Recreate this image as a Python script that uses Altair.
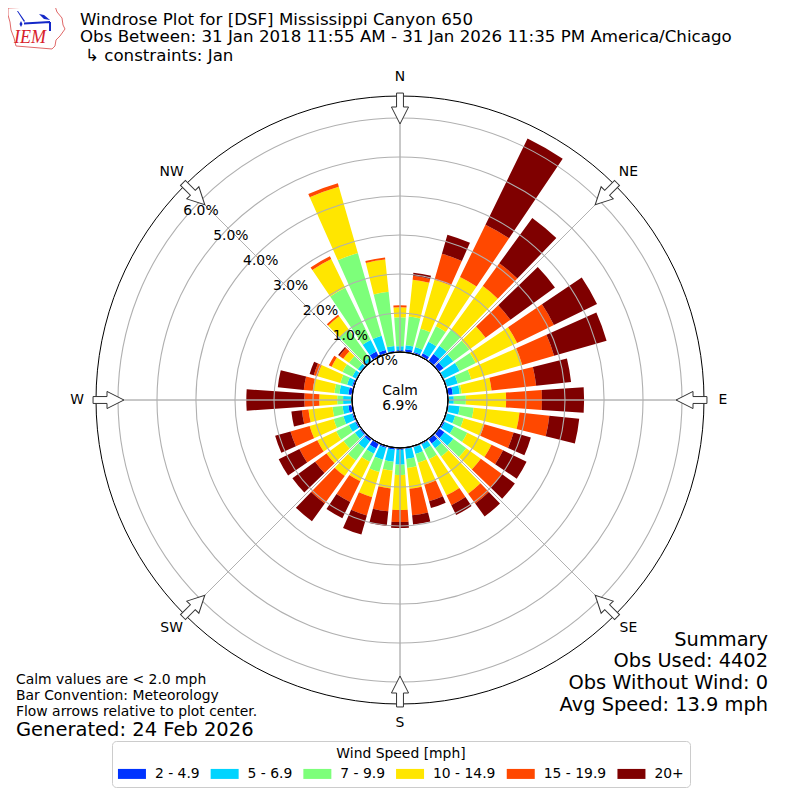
import math
import altair as alt
import pandas as pd

# Direction of each bar (degrees clockwise from north)
directions = list(range(0, 360, 10))

# Frequency (percent of observations) per speed class, one value per direction
speed_labels = ["2 - 4.9", "5 - 6.9", "7 - 9.9", "10 - 14.9", "15 - 19.9", "20+"]
speed_colors = ["#0033ff", "#00d4ff", "#7dff7a", "#ffe600", "#ff4800", "#7f0000"]
class_2_5 = [.05,.08,.05,.10,.23,.15,.03,.03,.13,.01,.03,.03,.05,.18,.15,.04,.03,.03,
             .05,.05,.05,.15,.08,.05,.05,.05,.10,.01,.10,.05,.03,.03,.03,.15,.10,.04]
class_5_7 = [.10,.10,.13,.33,.26,.31,.44,.28,.18,.14,.28,.21,.26,.28,.15,.14,.18,.26,
             .38,.31,.31,.15,.23,.15,.18,.23,.15,.22,.23,.13,.10,.08,.08,.33,.38,.12]
class_7_10 = [.74,.74,.49,.44,.51,.51,.46,.36,.05,.31,.36,.23,.38,.41,.26,.28,.23,.23,
              .26,.23,.33,.23,.38,.36,.36,.26,.26,.15,.13,.18,.28,.28,.90,1.49,2.21,1.40]
class_10_15 = [.26,.95,1.31,1.41,1.38,.51,1.18,1.36,.77,1.03,1.18,.55,.69,.46,1.18,1.03,.59,.54,
               .90,.46,.67,.56,.49,.54,.54,.64,.62,.46,.56,.61,.31,.18,.41,.82,1.77,.83]
class_15_20 = [.05,.10,.69,1.49,.72,.79,1.05,.85,1.15,.92,.77,.78,.33,.67,.31,.28,.44,.68,
               .31,.59,.49,.59,.87,.36,.51,.51,.17,.38,.23,.10,.08,.12,.05,.08,.09,.05]
class_20_up = [0,.08,.51,2.46,1.44,1.41,1.23,1.40,.90,1.08,.77,.46,.67,.41,.41,.28,.18,.24,
               .15,.38,.51,.46,.56,.72,.59,.41,.27,1.49,.67,.11,0,.04,0,0,0,0]
all_classes = [class_2_5, class_5_7, class_7_10, class_10_15, class_15_20, class_20_up]

ring_values = [1, 2, 3, 4, 5, 6]
ring_labels = ["0.0%", "1.0%", "2.0%", "3.0%", "4.0%", "5.0%", "6.0%"]
compass_deg = [0, 45, 90, 135, 180, 225, 270, 315]
compass_names = ["N", "NE", "E", "SE", "S", "SW", "W", "NW"]

BAR_WIDTH = 8
R_MAX = 6.564
FONT = "DejaVu Sans"

theta_scale = alt.Scale(domain=[0, 360], range=[0, math.tau])
radius_scale = alt.Scale(domain=[0, R_MAX], range=[48, 304], zero=False)
px_x = alt.Scale(domain=[8, 792], range=[0, 784])
px_y = alt.Scale(domain=[8, 792], range=[0, 784])


def T(f):
    return alt.Theta(f, type="quantitative", scale=theta_scale, stack=None)


def R(f):
    return alt.Radius(f, type="quantitative", scale=radius_scale, stack=None)


# Bars
rows = []
for i, d in enumerate(directions):
    base = 0.0
    for label, values in zip(speed_labels, all_classes):
        v = values[i]
        if v > 0:
            rows.append({"a0": d - BAR_WIDTH / 2, "a1": d + BAR_WIDTH / 2,
                         "r0": base, "r1": base + v, "speed": label})
        base += v
bars = alt.Chart(pd.DataFrame(rows)).mark_arc(stroke=None).encode(
    theta=T("a0"), theta2="a1", radius=R("r1"), radius2="r0",
    color=alt.Color("speed:N", scale=alt.Scale(domain=speed_labels, range=speed_colors),
                    legend=alt.Legend(
                        title="Wind Speed [mph]", orient="none", legendX=104, legendY=733,
                        direction="horizontal", columns=6, gridAlign="each",
                        columnPadding=9.7, labelOffset=23, labelFontSize=13.9, titleFontSize=13.9,
                        labelFont=FONT, titleFont=FONT, titleFontWeight="normal",
                        titleAnchor="middle", titlePadding=6, labelColor="#000", titleColor="#000",
                        symbolType="M-1.4,-1H4.2V1H-1.4Z", symbolSize=100, symbolStrokeWidth=0,
                        fillColor="white", strokeColor="#cccccc", cornerRadius=4, padding=6)),
)

# Grid
GRID = "#b0b0b0"
rings = alt.Chart(pd.DataFrame({"r": ring_values, "a0": 0, "a1": 360})).mark_arc(
    fill="transparent", stroke=GRID, strokeWidth=1.1).encode(theta=T("a0"), theta2="a1", radius=R("r"))
spokes = alt.Chart(pd.DataFrame({"a0": compass_deg, "a1": compass_deg, "r0": 0, "r1": R_MAX})).mark_arc(
    fill="transparent", stroke=GRID, strokeWidth=0.9).encode(theta=T("a0"), theta2="a1", radius=R("r1"), radius2="r0")
hole = alt.Chart(pd.DataFrame({"r": [0], "a0": 0, "a1": 360})).mark_arc(
    fill="white", stroke="black", strokeWidth=0.9).encode(theta=T("a0"), theta2="a1", radius=R("r"))
outer = alt.Chart(pd.DataFrame({"r": [R_MAX], "a0": 0, "a1": 360})).mark_arc(
    fill="transparent", stroke="black", strokeWidth=1).encode(theta=T("a0"), theta2="a1", radius=R("r"))

# Flow arrows on the outer ring, pointing at the centre
ARROW = "M-0.23,-1.03H0.23V-0.1H0.57L0,1.03L-0.57,-0.1H-0.23Z"
arrow_df = pd.DataFrame({
    "deg": compass_deg,
    "x": [400 + 291.5 * math.sin(math.radians(d)) for d in compass_deg],
    "y": [400 - 291.5 * math.cos(math.radians(d)) for d in compass_deg],
})
arrows = alt.Chart(arrow_df).mark_point(
    shape=ARROW, size=900, filled=True, fill="white", stroke="#333333", strokeWidth=1, opacity=1).encode(
    x=alt.X("x:Q", scale=px_x, axis=None), y=alt.Y("y:Q", scale=px_y, axis=None),
    angle=alt.Angle("deg:Q", scale=None))

# Compass and radial labels
compass = alt.Chart(pd.DataFrame({"deg": compass_deg, "t": compass_names})).mark_text(
    font=FONT, fontSize=13.9, color="black", baseline="middle").encode(
    theta=T("deg"), radius=alt.value(323), text="t:N")
radial = alt.Chart(pd.DataFrame({"deg": 310, "r": list(range(7)), "t": ring_labels})).mark_text(
    font=FONT, fontSize=13.9, color="black", baseline="middle", dx=17, dy=-8).encode(
    theta=T("deg"), radius=R("r"), text="t:N")


def text_layer(items, align):
    df = pd.DataFrame(items, columns=["x", "y", "t", "s"])
    return alt.Chart(df).mark_text(font=FONT, color="black", align=align, baseline="middle").encode(
        x=alt.X("x:Q", scale=px_x, axis=None), y=alt.Y("y:Q", scale=px_y, axis=None),
        text="t:N", size=alt.Size("s:Q", scale=None))


left_text = text_layer([
    (80, 20, "Windrose Plot for [DSF] Mississippi Canyon 650", 16.67),
    (80, 37, "Obs Between: 31 Jan 2018 11:55 AM - 31 Jan 2026 11:35 PM America/Chicago", 16.67),
    (85, 56, "↳ constraints: Jan", 16.67),
    (16, 680, "Calm values are < 2.0 mph", 13.9),
    (16, 696, "Bar Convention: Meteorology", 13.9),
    (16, 712, "Flow arrows relative to plot center.", 13.9),
    (16, 730, "Generated: 24 Feb 2026", 19.5),
], "left")
right_text = text_layer([
    (768, 640, "Summary", 19.4),
    (768, 661, "Obs Used: 4402", 19.4),
    (768, 683, "Obs Without Wind: 0", 19.4),
    (768, 705, "Avg Speed: 13.9 mph", 19.4),
], "right")
center_text = text_layer([
    (400, 391, "Calm", 13.9),
    (400, 406, "6.9%", 13.9),
], "center")

# IEM logo
IOWA = ("M-.933,-.633L.633,-.7L.7,-.5L.867,-.3L.9,-.067L.967,.067L.8,.3L.667,.433L.633,.633"
        "L.533,.733L-.667,.633L-.733,.367L-.833,.1L-.867,-.167L-.933,-.4Z")
BIRD = ("M-.4,-.15L.467,-.2L.467,-.133L-.4,-.083Z"
        "M-.633,-.533L-.6,-.533L-.367,-.2L-.4,-.167Z"
        "M-.5,-.2L-.45,-.1L-.5,0L-.55,-.1Z"
        "M.1,-.433L.267,-.4L.467,-.233L.267,-.267Z"
        "M.433,-.167L.5,-.167L.5,.133L.433,.133Z")
logo_pos = pd.DataFrame({"x": [36], "y": [27]})
logo_xy = dict(x=alt.X("x:Q", scale=px_x, axis=None), y=alt.Y("y:Q", scale=px_y, axis=None))
logo_line = alt.Chart(logo_pos).mark_point(
    shape=IOWA, size=3600, filled=False, stroke="#e06868", strokeWidth=1, opacity=1).encode(**logo_xy)
logo_bird = alt.Chart(logo_pos).mark_point(
    shape=BIRD, size=3600, filled=True, fill="#1428c8", strokeWidth=0, opacity=1).encode(**logo_xy)
logo_text = alt.Chart(pd.DataFrame({"x": [30], "y": [38], "t": ["IEM"]})).mark_text(
    font="Liberation Serif", fontStyle="italic", fontSize=18, color="#d8202a",
    baseline="middle", align="center").encode(
    x=alt.X("x:Q", scale=px_x, axis=None), y=alt.Y("y:Q", scale=px_y, axis=None), text="t:N")

chart = alt.layer(
    bars, rings, spokes, hole, outer, arrows, compass, radial,
    left_text, right_text, center_text, logo_line, logo_bird, logo_text,
).properties(width=784, height=784, padding=0, autosize="none",
             background="white").configure_view(stroke=None)

chart.save("out.html", embed_options={"renderer": "svg", "actions": False})
